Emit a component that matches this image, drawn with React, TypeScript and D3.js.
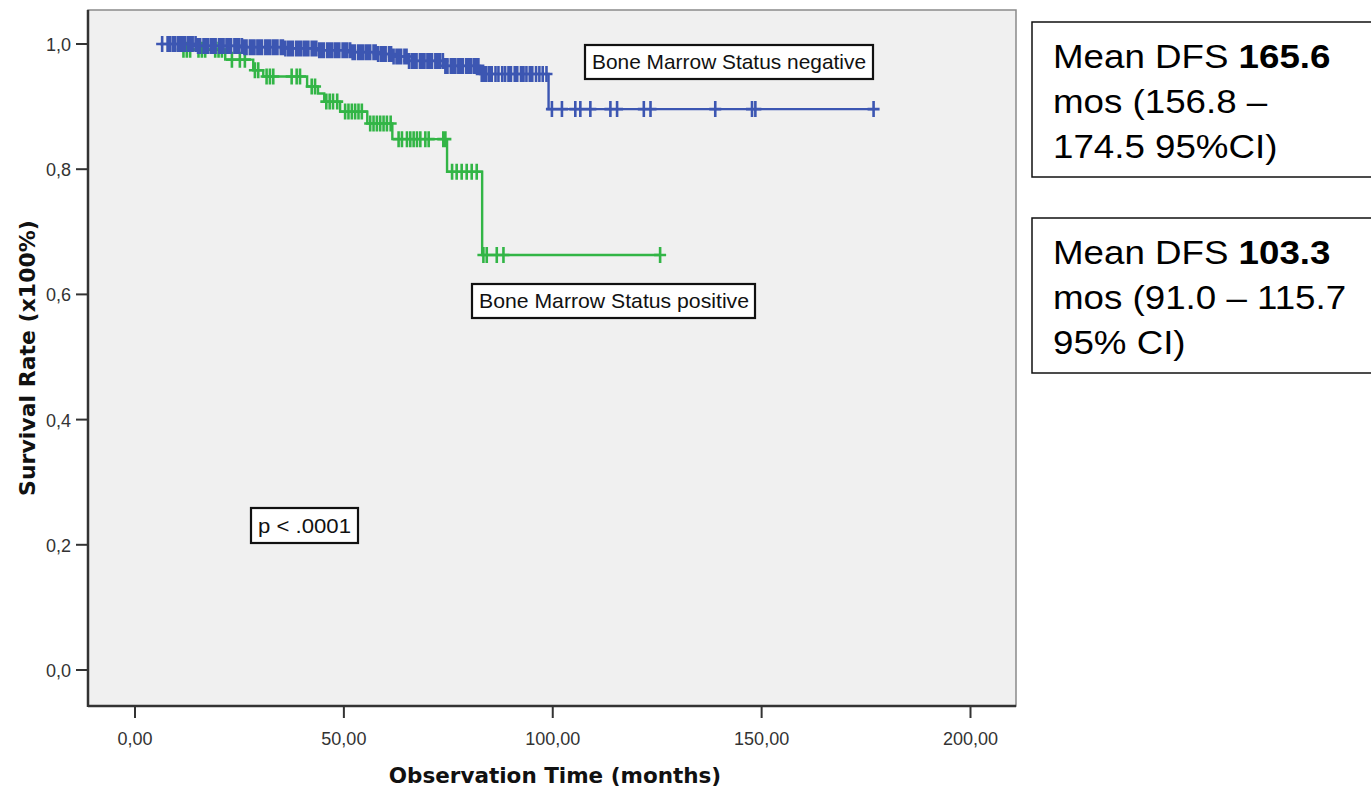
import React from 'react';
import * as d3 from 'd3';

// Kaplan-Meier step levels (months, survival)
const negTimes = [6, 15, 26, 36, 44, 52, 58, 61.5, 65.6, 74.3, 82.6, 99];
const negSurv = [1.0, 0.997, 0.995, 0.993, 0.99, 0.987, 0.984, 0.98, 0.973, 0.965, 0.952, 0.896];
const negEnd = 176.8;
const negCensored = [
  6.5, 7.8, 8.4, 9.1, 9.6, 10.3, 10.9, 11.4, 12.0, 12.7, 13.3, 13.8, 14.5, 15.1, 15.6, 16.4, 17.0, 17.5,
  18.2, 18.8, 19.3, 20.1, 20.6, 21.2, 21.9, 22.5, 23.0, 23.8, 24.3, 24.9, 25.6, 26.2, 26.7, 27.5, 28.0,
  28.6, 29.3, 29.9, 30.4, 31.2, 31.7, 32.3, 33.0, 33.6, 34.1, 34.9, 35.4, 36.0, 36.7, 37.3, 37.8, 38.6,
  39.1, 39.7, 40.4, 41.0, 41.5, 42.3, 42.8, 43.4, 44.1, 44.7, 45.2, 46.0, 46.5, 47.1, 47.8, 48.4, 48.9,
  49.7, 50.2, 50.8, 51.5, 52.1, 52.6, 53.4, 53.9, 54.5, 55.2, 55.8, 56.3, 57.1, 57.6, 58.2, 58.9, 59.5,
  60.0, 60.8, 61.3, 61.9, 62.6, 63.2, 63.7, 64.5, 65.0, 65.6, 66.3, 66.9, 67.4, 68.2, 68.7, 69.3, 70.0,
  70.6, 71.1, 71.9, 72.4, 73.0, 73.7, 74.3, 74.8, 75.6, 76.1, 76.7, 77.4, 78.0, 78.5, 79.3, 79.8, 80.4,
  81.1, 81.7, 82.2, 83.0, 83.5, 84.1, 84.8, 85.4, 86.3, 87.0, 87.9, 88.6, 89.4, 90.0, 90.9, 91.5, 92.4,
  93.0, 93.7, 94.5, 95.1, 96.0, 96.8, 97.6, 98.5,
  99.8, 102.2, 105.4, 106.6, 109.0, 113.8, 115.4, 121.8, 123.4, 138.9, 147.7, 148.5, 176.8
];

const posTimes = [10, 21.6, 28.3, 30.7, 41.2, 43.8, 45.3, 49.1, 55.6, 61.6, 74.7, 83.1];
const posSurv = [0.991, 0.975, 0.958, 0.948, 0.932, 0.921, 0.908, 0.892, 0.873, 0.848, 0.796, 0.663];
const posEnd = 125.7;
const posCensored = [
  11.6, 12.4, 13.2, 15.2, 16.0, 16.8, 19.2, 20.0, 20.8, 23.2, 25.1, 26.3, 28.7, 29.5,
  31.5, 32.3, 33.1, 37.5, 38.7, 39.5, 42.3, 43.1, 45.8, 46.6, 47.4, 48.4,
  50.3, 51.1, 51.9, 52.7, 53.5, 54.3, 56.3, 57.1, 57.9, 58.7, 59.5, 60.3, 61.2,
  63.1, 63.9, 65.1, 65.9, 66.7, 67.5, 68.3, 69.5, 70.3, 73.8, 74.3,
  75.9, 77.0, 78.2, 79.4, 80.6, 81.8, 83.4, 84.2, 86.6, 88.2, 125.7
];

const xTicks = [0, 50, 100, 150, 200];
const yTicks = [0, 0.2, 0.4, 0.6, 0.8, 1.0];

const BLUE = '#3c56b2';
const GREEN = '#32b546';

const frame = { left: 88, top: 10, right: 1016, bottom: 706 };

function stepPoints(times: number[], surv: number[], end: number): [number, number][] {
  const pts: [number, number][] = times.map((t, i) => [t, surv[i]]);
  pts.push([end, surv[surv.length - 1]]);
  return pts;
}

function survAt(times: number[], surv: number[], t: number) {
  let s = surv[0];
  for (let i = 0; i < times.length; i++) if (times[i] <= t) s = surv[i];
  return s;
}

const Curve = ({ times, surv, end, censored, color, x, y }: any) => {
  const line = d3.line<[number, number]>()
    .x(d => x(d[0]))
    .y(d => y(d[1]))
    .curve(d3.curveStepAfter);
  const marks = censored.map((t: number) => {
    const cx = x(t);
    const cy = y(survAt(times, surv, t));
    return `M${cx - 6},${cy}H${cx + 6}M${cx},${cy - 8}V${cy + 8}`;
  }).join('');
  return (
    <g>
      <path d={line(stepPoints(times, surv, end)) || ''} fill="none" stroke={color} strokeWidth={2.4} />
      <path d={marks} fill="none" stroke={color} strokeWidth={2.6} />
    </g>
  );
};

const InfoBox = ({ top, lines }: { top: number; lines: [string, string][] }) => (
  <g>
    <rect x={1032} y={top} width={360} height={155} fill="#fff" stroke="#111" strokeWidth={1.5} />
    <g transform={`translate(1053,0) scale(1.13,1)`}>
      {lines.map((l, i) => (
        <text key={i} x={0} y={top + 46 + i * 44.8} fontFamily="'Liberation Sans', Arial, sans-serif"
          fontSize={32.5} fill="#000">
          {l[0]}<tspan fontWeight="bold">{l[1]}</tspan>
        </text>
      ))}
    </g>
  </g>
);

const LabelBox = ({ x0, y0, w, h, label, tw }: any) => (
  <g>
    <rect x={x0} y={y0} width={w} height={h} fill="#fff" stroke="#111" strokeWidth={2.2} />
    <text x={x0 + 7} y={y0 + h / 2 + 7} fontFamily="'Liberation Sans Narrow', 'Liberation Sans', Arial, sans-serif"
      fontSize={21} fill="#111" textLength={tw} lengthAdjust="spacingAndGlyphs">{label}</text>
  </g>
);

export default function App() {
  const x = d3.scaleLinear().domain([0, 200]).range([135, 970.5]);
  const y = d3.scaleLinear().domain([0, 1]).range([670, 44]);
  const fmtX = (v: number) => d3.format('.2f')(v).replace('.', ',');
  const fmtY = (v: number) => d3.format('.1f')(v).replace('.', ',');

  return (
    <svg width={1371} height={796} style={{ position: 'absolute', left: 0, top: 0, background: '#fff' }}>
      <rect x={frame.left} y={frame.top} width={frame.right - frame.left} height={frame.bottom - frame.top}
        fill="#f0f0f0" stroke="#8a8a8a" strokeWidth={1.5} />
      <line x1={frame.left} x2={frame.left} y1={frame.top} y2={frame.bottom + 1} stroke="#333" strokeWidth={2.5} />
      <line x1={frame.left} x2={frame.right} y1={frame.bottom} y2={frame.bottom} stroke="#333" strokeWidth={2.5} />

      {yTicks.map(t => (
        <g key={t}>
          <line x1={76} x2={frame.left} y1={y(t)} y2={y(t)} stroke="#333" strokeWidth={2} />
          <text x={71} y={y(t) + 7} textAnchor="end" fontFamily="'Liberation Sans', Arial, sans-serif"
            fontSize={18} fill="#333">{fmtY(t)}</text>
        </g>
      ))}
      {xTicks.map(t => (
        <g key={t}>
          <line x1={x(t)} x2={x(t)} y1={frame.bottom} y2={718} stroke="#333" strokeWidth={2} />
          <text x={x(t)} y={745} textAnchor="middle" fontFamily="'Liberation Sans', Arial, sans-serif"
            fontSize={18} fill="#333">{fmtX(t)}</text>
        </g>
      ))}

      <text x={555} y={783} textAnchor="middle" fontFamily="'DejaVu Sans', Verdana, sans-serif"
        fontWeight="bold" fontSize={21.5} fill="#111">Observation Time (months)</text>
      <text transform="translate(35,358) rotate(-90)" textAnchor="middle" fontFamily="'DejaVu Sans', Verdana, sans-serif"
        fontWeight="bold" fontSize={22} fill="#111">Survival Rate (x100%)</text>

      <Curve times={posTimes} surv={posSurv} end={posEnd} censored={posCensored} color={GREEN} x={x} y={y} />
      <Curve times={negTimes} surv={negSurv} end={negEnd} censored={negCensored} color={BLUE} x={x} y={y} />

      <LabelBox x0={585} y0={45} w={288} h={34} label="Bone Marrow Status negative" tw={274} />
      <LabelBox x0={472} y0={284} w={283} h={34} label="Bone Marrow Status positive" tw={270} />
      <LabelBox x0={251} y0={508} w={107} h={35} label="p < .0001" tw={93} />

      <InfoBox top={22} lines={[['Mean DFS ', '165.6'], ['mos (156.8 –', ''], ['174.5 95%CI)', '']]} />
      <InfoBox top={218} lines={[['Mean DFS ', '103.3'], ['mos (91.0 – 115.7', ''], ['95% CI)', '']]} />
    </svg>
  );
}
